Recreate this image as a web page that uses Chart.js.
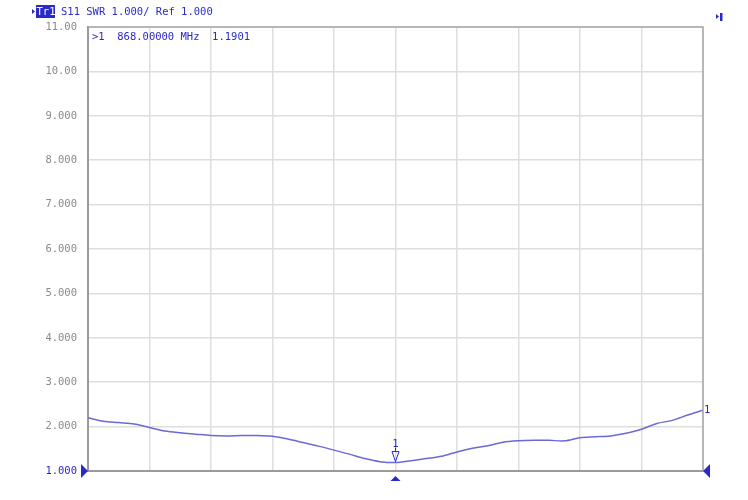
<!DOCTYPE html>
<html>
<head>
<meta charset="utf-8">
<script src="https://cdn.jsdelivr.net/npm/chart.js@4.4.1/dist/chart.umd.min.js"></script>
<style>
  html, body { margin: 0; padding: 0; background: #fff; }
  #wrap { width: 748px; height: 500px; }
</style>
</head>
<body>
<div id="wrap"><canvas id="swrChart" width="748" height="500"></canvas></div>
<script>
// frequency points (MHz), 41 points across the span
const freqs = [];
const startFreq = 818, stepFreq = 2.5;
for (let i = 0; i <= 40; i++) freqs.push(startFreq + i * stepFreq);

// SWR
const swr = [
  2.20, 2.12, 2.09, 2.06, 1.98, 1.90, 1.86, 1.83, 1.80, 1.79,
  1.80, 1.80, 1.78, 1.72, 1.64, 1.56, 1.47, 1.38, 1.28, 1.21,
  1.19, 1.23, 1.28, 1.33, 1.43, 1.51, 1.57, 1.65, 1.68, 1.69,
  1.69, 1.68, 1.75, 1.77, 1.79, 1.85, 1.94, 2.07, 2.14, 2.26,
  2.37
];

const yTicks = [1, 2, 3, 4, 5, 6, 7, 8, 9, 10, 11];
const markerFreq = 868;
const markerValue = 1.1901;
const headerText = 'S11 SWR 1.000/ Ref 1.000';
const markerText = '>1  868.00000 MHz  1.1901';

const blue = '#2a2ac8';
const traceColor = '#6a6ad6';
const mono = '"DejaVu Sans Mono", monospace';

const overlay = {
  id: 'overlay',
  afterDraw(chart) {
    const ctx = chart.ctx;
    const a = chart.chartArea;
    const xs = chart.scales.x, ys = chart.scales.y;
    ctx.save();

    // top and right edges of the plot box
    ctx.strokeStyle = '#a8a8a8';
    ctx.lineWidth = 1.5;
    ctx.beginPath();
    ctx.moveTo(a.left, a.top); ctx.lineTo(a.right, a.top); ctx.lineTo(a.right, a.bottom);
    ctx.stroke();

    ctx.font = '10.5px ' + mono;
    ctx.textBaseline = 'middle';

    // header
    ctx.fillStyle = blue;
    ctx.beginPath();
    ctx.moveTo(32, 9); ctx.lineTo(35, 11.5); ctx.lineTo(32, 14); ctx.fill();
    ctx.fillRect(36, 5, 19, 13);
    ctx.fillStyle = '#fff';
    ctx.fillText('Tr1', 36.5, 12);
    ctx.fillStyle = blue;
    ctx.fillText(headerText, 61, 12);

    // top right icon
    ctx.beginPath();
    ctx.moveTo(716, 14); ctx.lineTo(719, 16.5); ctx.lineTo(716, 19); ctx.fill();
    ctx.fillRect(720, 13, 2.5, 8);

    // marker readout
    ctx.fillText(markerText, 92, 37);

    // marker on trace
    const mx = xs.getPixelForValue(markerFreq);
    const my = ys.getPixelForValue(markerValue);
    ctx.strokeStyle = blue;
    ctx.lineWidth = 1;
    ctx.beginPath();
    ctx.moveTo(mx - 3.5, my - 11); ctx.lineTo(mx + 3.5, my - 11); ctx.lineTo(mx, my - 1); ctx.closePath();
    ctx.stroke();
    ctx.beginPath();
    ctx.moveTo(mx, my - 15); ctx.lineTo(mx, my - 11); ctx.stroke();
    ctx.textAlign = 'center';
    ctx.fillText('1', mx, my - 18);

    // bottom marker triangle
    ctx.beginPath();
    ctx.moveTo(mx - 5, a.bottom + 10); ctx.lineTo(mx + 5, a.bottom + 10); ctx.lineTo(mx, a.bottom + 5); ctx.fill();

    // left reference triangle
    ctx.beginPath();
    ctx.moveTo(a.left - 7, a.bottom - 7); ctx.lineTo(a.left, a.bottom); ctx.lineTo(a.left - 7, a.bottom + 7); ctx.fill();
    // right triangle
    ctx.beginPath();
    ctx.moveTo(a.right + 7, a.bottom - 7); ctx.lineTo(a.right, a.bottom); ctx.lineTo(a.right + 7, a.bottom + 7); ctx.fill();

    // trace end label
    const ey = ys.getPixelForValue(swr[swr.length - 1]);
    ctx.textAlign = 'left';
    ctx.fillText('1', a.right + 1, ey);
    ctx.restore();
  }
};

new Chart(document.getElementById('swrChart').getContext('2d'), {
  type: 'line',
  data: {
    datasets: [{
      data: freqs.map((f, i) => ({ x: f, y: swr[i] })),
      borderColor: traceColor,
      borderWidth: 1.5,
      pointRadius: 0,
      fill: false,
      tension: 0.3
    }]
  },
  options: {
    responsive: false,
    animation: false,
    events: [],
    layout: { padding: { left: 0, top: 27, right: 45, bottom: 29 } },
    plugins: { legend: { display: false }, tooltip: { enabled: false } },
    scales: {
      x: {
        type: 'linear',
        min: freqs[0],
        max: freqs[freqs.length - 1],
        ticks: { display: false, stepSize: 10 },
        grid: { color: '#dedede', lineWidth: 1.5, drawTicks: false },
        border: { color: '#9a9a9a', width: 2 }
      },
      y: {
        min: 1,
        max: 11,
        afterFit(scale) { scale.width = 88; },
        afterBuildTicks(scale) { scale.ticks = yTicks.map(v => ({ value: v })); },
        ticks: {
          padding: 11,
          font: { family: mono, size: 10.5 },
          color: ctx => ctx.tick && ctx.tick.value === 1 ? blue : '#8a8a8a',
          callback: v => v >= 10 ? v.toFixed(2) : v.toFixed(3)
        },
        grid: { color: '#dedede', lineWidth: 1.5, drawTicks: false },
        border: { color: '#9a9a9a', width: 2 }
      }
    }
  },
  plugins: [overlay]
});
</script>
</body>
</html>
